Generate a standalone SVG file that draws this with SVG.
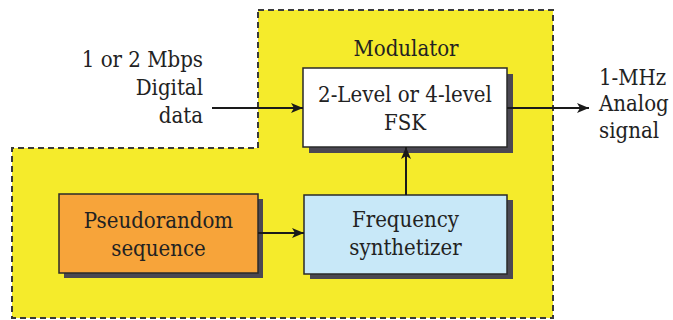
<svg xmlns="http://www.w3.org/2000/svg" width="673" height="320" viewBox="0 0 673 320">
  <defs>
    <marker id="arrow" viewBox="0 0 12 10" refX="12" refY="5" markerWidth="12" markerHeight="10" markerUnits="userSpaceOnUse" orient="auto">
      <path d="M0,0 L12,5 L0,10 L3,5 Z" fill="#1a1a1a"/>
    </marker>
  </defs>
  <style>
    text { font-family: "DejaVu Serif Condensed", "DejaVu Serif", serif; font-stretch: condensed; font-size: 22px; fill: #222; }
    .mid { text-anchor: middle; }
    .end { text-anchor: end; }
    .box { stroke: #2a2a2a; stroke-width: 1.5; }
    .shadow { fill: #4b4852; }
    .wire { stroke: #1a1a1a; stroke-width: 2; fill: none; marker-end: url(#arrow); }
  </style>

  <rect width="673" height="320" fill="#ffffff"/>

  <!-- modulator region -->
  <g id="modulator">
    <path d="M258,10 H553 V318 H12 V148 H258 Z" fill="#f5eb2b" stroke="#3a3a3a" stroke-width="2" stroke-dasharray="6 4"/>
    <text class="mid" x="406" y="56">Modulator</text>
  </g>

  <!-- FSK block -->
  <g id="fsk">
    <rect class="shadow" x="309" y="74" width="204" height="79"/>
    <rect class="box" x="303" y="68" width="204" height="79" fill="#ffffff"/>
    <text class="mid" x="405" y="102">2-Level or 4-level</text>
    <text class="mid" x="405" y="130">FSK</text>
  </g>

  <!-- pseudorandom sequence block -->
  <g id="pseudorandom">
    <rect class="shadow" x="64" y="199" width="199" height="79"/>
    <rect class="box" x="59" y="194" width="199" height="79" fill="#f7a43a"/>
    <text class="mid" x="158.5" y="228">Pseudorandom</text>
    <text class="mid" x="158.5" y="256">sequence</text>
  </g>

  <!-- frequency synthesizer block -->
  <g id="synthesizer">
    <rect class="shadow" x="310" y="200" width="203" height="79"/>
    <rect class="box" x="304" y="195" width="203" height="79" fill="#c8e8f8"/>
    <text class="mid" x="405.5" y="227">Frequency</text>
    <text class="mid" x="405.5" y="255">synthetizer</text>
  </g>

  <!-- input label -->
  <g id="input">
    <text class="end" x="203" y="67">1 or 2 Mbps</text>
    <text class="end" x="203" y="95">Digital</text>
    <text class="end" x="203" y="123">data</text>
  </g>

  <!-- output label -->
  <g id="output">
    <text x="599" y="85">1-MHz</text>
    <text x="599" y="111">Analog</text>
    <text x="599" y="138">signal</text>
  </g>

  <!-- connectors -->
  <g id="connectors">
    <line class="wire" x1="212" y1="108" x2="303" y2="108"/>
    <line class="wire" x1="507" y1="108" x2="589" y2="108"/>
    <line class="wire" x1="258" y1="233" x2="304" y2="233"/>
    <line class="wire" x1="406" y1="195" x2="406" y2="147"/>
  </g>
</svg>
